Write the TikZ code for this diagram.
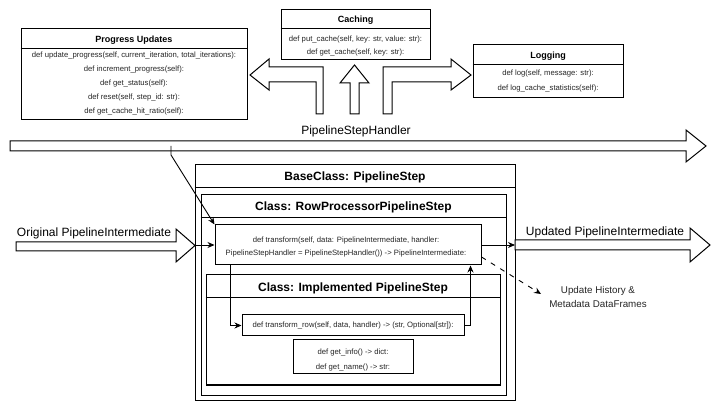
\documentclass[tikz,border=0pt]{standalone}
\usepackage{fontspec}
\setmainfont{Liberation Sans}
\usetikzlibrary{arrows.meta}
\begin{document}
\begin{tikzpicture}[x=1pt,y=-1pt,line width=1pt,
  box/.style={draw,inner sep=0pt,line width=1pt},
  mtext/.style={font=\fontsize{7.7}{14}\selectfont,align=center,inner sep=0pt,text=black!85},
  stitle/.style={font=\fontsize{9}{11}\selectfont\bfseries,inner sep=0pt},
  btitle/.style={font=\fontsize{12}{14}\selectfont\bfseries,inner sep=0pt},
  lbl/.style={font=\fontsize{12}{14}\selectfont,inner sep=0pt},
  conn/.style={-{Stealth[length=7pt,width=6pt]},line width=0.9pt},
  blk/.style={draw,line width=1pt,line join=miter,fill=white}]
\useasboundingbox[fill=white] (0,0) rectangle (720,411);

% ---------- top classes ----------
\node[box,minimum width=226pt,minimum height=91pt] (prog) at (134,74.5) {};
\draw (prog.west |- 0,49) -- (prog.east |- 0,49);
\node[stitle] (progT) at (134,40) {Progress Updates};
\node[mtext] (progM) at (134,83.5) {def update\_progress(self, current\_iteration, total\_iterations):\\
def increment\_progress(self):\\ def get\_status(self):\\ def reset(self, step\_id: str):\\ def get\_cache\_hit\_ratio(self):};

\node[box,minimum width=149pt,minimum height=50pt] (cache) at (355.5,35) {};
\draw (cache.west |- 0,29) -- (cache.east |- 0,29);
\node[stitle] (cacheT) at (355.5,20) {Caching};
\node[mtext,font=\fontsize{7.7}{13}\selectfont] (cacheM) at (355.5,46) {def put\_cache(self, key: str, value: str):\\ def get\_cache(self, key: str):};

\node[box,minimum width=150pt,minimum height=53pt] (logb) at (548,71.5) {};
\draw (logb.west |- 0,65) -- (logb.east |- 0,65);
\node[stitle] (logT) at (548,56) {Logging};
\node[mtext,font=\fontsize{7.7}{15}\selectfont] (logM) at (548,81) {def log(self, message: str):\\ def log\_cache\_statistics(self):};

% ---------- bent / block arrows at top ----------
\draw[blk] (323,114) -- (323,67) -- (269,67) -- (269,59) -- (250,75) -- (269,90) -- (269,82) -- (316,82) -- (316,114) -- cycle;
\draw[blk] (350,114) -- (350,83) -- (340,83) -- (354.5,65) -- (369,83) -- (359,83) -- (359,114) -- cycle;
\draw[blk] (383,114) -- (383,67) -- (451,67) -- (451,59) -- (471,75) -- (451,90) -- (451,82) -- (392,82) -- (392,114) -- cycle;

% ---------- PipelineStepHandler big arrow ----------
\draw[blk] (10,141) -- (686,141) -- (686,130) -- (706,146) -- (686,162) -- (686,151) -- (10,151) -- cycle;
\node[lbl] (handlerL) at (356,131) {PipelineStepHandler};

% ---------- nested class boxes ----------
\node[box,minimum width=320pt,minimum height=235pt] (base) at (355,282.5) {};
\draw (base.west |- 0,188) -- (base.east |- 0,188);
\node[btitle] (baseT) at (355,177) {BaseClass: PipelineStep};

\node[box,minimum width=305pt,minimum height=200pt] (rowp) at (353.5,295) {};
\draw (rowp.west |- 0,218) -- (rowp.east |- 0,218);
\node[btitle] (rowpT) at (353.5,207.5) {Class: RowProcessorPipelineStep};

\node[box,minimum width=266pt,minimum height=40pt] (tr) at (348,245) {};
\node[mtext,font=\fontsize{7.7}{13}\selectfont] (trM) at (346,247) {def transform(self, data: PipelineIntermediate, handler:\\ PipelineStepHandler = PipelineStepHandler()) -> PipelineIntermediate:};

\node[box,minimum width=294pt,minimum height=110pt] (impl) at (353,330) {};
\draw (impl.west |- 0,298) -- (impl.east |- 0,298);
\node[btitle] (implT) at (353,288) {Class: Implemented PipelineStep};

\node[box,minimum width=222pt,minimum height=21pt] (row) at (353,325.5) {};
\node[mtext] (rowM) at (353,326) {def transform\_row(self, data, handler) -> (str, Optional[str]):};

\node[box,minimum width=120pt,minimum height=34pt] (info) at (353,357) {};
\node[mtext,font=\fontsize{7.7}{15}\selectfont] (infoM) at (353,360) {def get\_info() -> dict:\\ def get\_name() -> str:};

% ---------- input / output block arrows ----------
\draw[blk] (16,242) -- (176,242) -- (176,229) -- (195,245.5) -- (176,262) -- (176,251) -- (16,251) -- cycle;
\node[lbl] (origL) at (94,233) {Original PipelineIntermediate};
\coordinate (origtip) at (195,245);

\draw[blk] (515,240) -- (690,240) -- (690,228) -- (710,245) -- (690,262) -- (690,250) -- (515,250) -- cycle;
\node[lbl] (updL) at (605,232) {Updated PipelineIntermediate};
\coordinate (updtail) at (515,245);

\node[font=\fontsize{9.8}{14}\selectfont,align=center,inner sep=0pt,text=black!85] (hist) at (598,297) {Update History \&\\ Metadata DataFrames};
\coordinate (dashend) at (541,294);
\coordinate (hstart) at (171,146);

% ---------- connectors ----------
\draw[conn] (origtip) -- (tr.west);
\draw[conn] (tr.east) -- (updtail);
\draw[conn] (hstart) -- ++(0,9) -- (tr.north west);
\draw[conn] ([xshift=16pt]tr.south west) |- (row.west);
\draw[conn] (row.east) -| ([xshift=-11pt]tr.south east);
\draw[conn,dash pattern=on 5pt off 6pt] ([yshift=-12pt]tr.east) -- (dashend);
\end{tikzpicture}
\end{document}
